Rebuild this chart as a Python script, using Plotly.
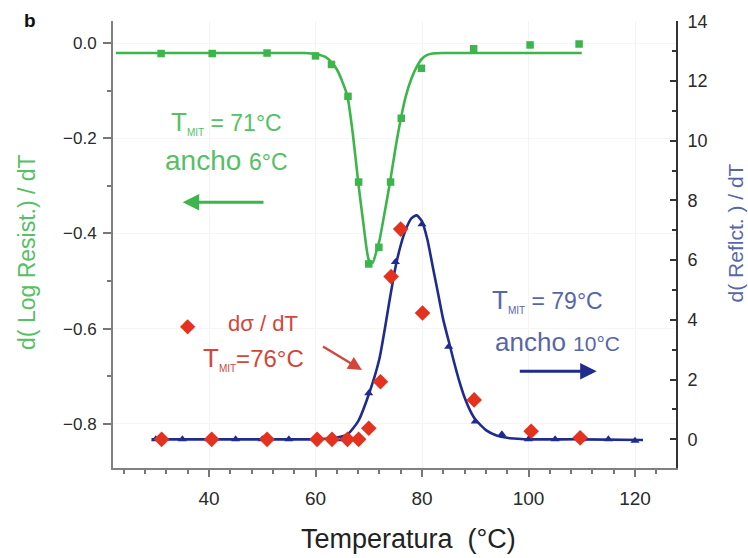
import plotly.graph_objects as go

# ---------------- data ----------------
# green: d(Log Resist.)/dT  (left axis), squares + fitted curve
green_T = [31.0, 40.6, 50.9, 60.0, 63.0, 66.1, 68.1, 70.0, 71.9, 74.1, 76.1, 79.9, 89.7, 100.3, 109.5]
green_v = [-0.022, -0.022, -0.021, -0.027, -0.045, -0.112, -0.292, -0.464, -0.429, -0.292, -0.158, -0.053,
           -0.012, -0.004, -0.002]
green_fit_T = [22.5, 30, 40, 50, 58, 60, 62, 63, 64, 65, 66, 67, 68, 69, 70, 70.7, 71.5, 72, 73, 74, 75,
               76, 77, 78, 79, 80, 81, 82, 84, 90, 100, 110]
green_fit_v = [-0.021, -0.021, -0.021, -0.021, -0.021, -0.023, -0.030, -0.040, -0.055, -0.080, -0.112,
               -0.190, -0.290, -0.380, -0.455, -0.462, -0.435, -0.415, -0.355, -0.292, -0.222, -0.160,
               -0.110, -0.075, -0.050, -0.033, -0.025, -0.022, -0.021, -0.021, -0.021, -0.021]

# blue: d(Reflct.)/dT (right axis), triangles + fitted curve
blue_T = [30, 35, 40, 45, 50, 55, 60, 65, 70, 75, 80, 85, 90, 95, 100, 105, 110, 115, 120]
blue_v = [0, 0, 0, 0, 0, 0, 0, 0, 1.54, 5.94, 7.2, 3.1, 0.6, 0.17, 0.0, 0, 0, 0, -0.05]
blue_fit_T = [29.2, 40, 50, 60, 62, 64, 66, 68, 70, 72, 74, 75, 76, 77, 78, 79, 80, 81, 82, 83, 84, 85,
              86, 87, 88, 89, 90, 92, 94, 96, 98, 100, 110, 121.5]
blue_fit_v = [0, 0, 0, 0, 0.02, 0.06, 0.17, 0.6, 1.5, 2.7, 4.75, 5.75, 6.5, 7.05, 7.4, 7.5, 7.3, 6.7,
              5.8, 4.9, 4.0, 3.3, 2.6, 1.95, 1.4, 0.98, 0.67, 0.31, 0.13, 0.05, 0.02, 0, 0, -0.02]

# red: dσ/dT (drawn on the right-axis scale), diamonds
red_T = [31.1, 40.5, 50.9, 60.3, 63.1, 66.0, 68.1, 70.0, 72.2, 74.2, 76.0, 80.1, 89.8, 100.5, 109.7]
red_v = [0, 0, 0, 0, 0, 0, 0, 0.37, 1.93, 5.45, 7.04, 4.23, 1.32, 0.27, 0.05]

# ---------------- styles ----------------
GREEN = "#3cb54a"
BLUE = "#1f2b8e"
RED = "#e4321f"
GREEN_TXT = "#55c064"
BLUE_TXT = "#5866a8"
RED_TXT = "#d2473c"
FONT = "Arial, Liberation Sans, sans-serif"
TICK_TXT = "#2a2a2a"

fig = go.Figure()
fig.add_trace(go.Scatter(x=green_fit_T, y=green_fit_v, mode="lines",
                         line=dict(color=GREEN, width=2.6, shape="spline", smoothing=0.6), yaxis="y"))
fig.add_trace(go.Scatter(x=green_T, y=green_v, mode="markers",
                         marker=dict(symbol="square", size=7.5, color=GREEN), yaxis="y"))
fig.add_trace(go.Scatter(x=blue_fit_T, y=blue_fit_v, mode="lines",
                         line=dict(color=BLUE, width=2.6, shape="spline", smoothing=0.6), yaxis="y2"))
fig.add_trace(go.Scatter(x=blue_T, y=blue_v, mode="markers",
                         marker=dict(symbol="triangle-up", size=8, color=BLUE), yaxis="y2"))
fig.add_trace(go.Scatter(x=red_T, y=red_v, mode="markers",
                         marker=dict(symbol="diamond", size=12, color=RED), yaxis="y2"))

sub = "<sub><span style='font-size:10px'>MIT</span></sub>"
T_BIG = "<span style='font-size:26px'>T</span>"


def txt(text, x, y, size, color, xref="x", yref="y", angle=0):
    return dict(text=text, xref=xref, yref=yref, x=x, y=y, showarrow=False, textangle=angle,
                xanchor="center", yanchor="middle", font=dict(size=size, color=color))


def arrow(x0, y0, x1, y1, color, yref, width=3):
    return dict(text=" ", xref="x", yref=yref, axref="x", ayref=yref, x=x1, y=y1, ax=x0, ay=y0,
                showarrow=True, arrowhead=2, arrowsize=1.1, arrowwidth=width, arrowcolor=color)


ann = [
    # panel letter
    txt("<b>b</b>", -0.147, 1.002, 19, "#111", "paper", "paper"),
    # axis titles
    txt("d( Log Resist.) / dT", -0.153, 0.483, 23, GREEN_TXT, "paper", "paper", -90),
    txt("d( Reflct. ) / dT", 1.105, 0.525, 21, BLUE_TXT, "paper", "paper", -90),
    txt("Temperatura  (°C)", 0.525, -0.1595, 27, "#222", "paper", "paper"),
    # green text
    txt(T_BIG + sub + " = 71°C", 43.3, -0.166, 23, GREEN_TXT),
    txt("ancho <span style='font-size:23px'>6°C</span>", 43.3, -0.247, 28, GREEN_TXT),
    arrow(50.8, -0.3344, 35.06, -0.3344, GREEN, "y"),
    # red text
    txt("◆", 36.1, 3.82, 20, RED, "x", "y2"),
    txt("dσ / dT", 50.1, 3.88, 22, RED_TXT, "x", "y2"),
    txt(T_BIG + sub + "=76°C", 48.3, 2.72, 24, RED_TXT, "x", "y2"),
    arrow(60.85, 3.17, 68.73, 2.32, RED_TXT, "y2", 2.5),
    # blue text
    txt(T_BIG + sub + " = 79°C", 103.6, 4.64, 23, BLUE_TXT, "x", "y2"),
    txt("ancho <span style='font-size:21px'>10°C</span>", 105.4, 3.26, 26, BLUE_TXT, "x", "y2"),
    arrow(97.8, 2.28, 112.8, 2.28, BLUE, "y2"),
]

fig.update_layout(
    width=748, height=558,
    margin=dict(l=113, r=72, t=13, b=90),
    paper_bgcolor="white", plot_bgcolor="white",
    showlegend=False,
    font=dict(family=FONT),
    annotations=ann,
    xaxis=dict(range=[21.97, 127.7], tick0=0, dtick=20, ticks="outside", ticklen=7, tickwidth=2,
               tickcolor="#777", showline=True, linecolor="#808080", linewidth=2, zeroline=False,
               showgrid=True, gridcolor="#f3f3f3",
               tickfont=dict(size=19, color=TICK_TXT), ticklabelstandoff=5,
               minor=dict(dtick=4, tick0=0, ticks="outside", ticklen=4, tickcolor="#777", showgrid=False)),
    yaxis=dict(range=[-0.8926, 0.0463], tick0=0, dtick=0.2, tickformat=".1f", ticks="outside",
               ticklen=8, tickwidth=2, tickcolor="#777", showline=True, linecolor="#808080", linewidth=2,
               zeroline=False, showgrid=True, gridcolor="#f5f5f5",
               tickfont=dict(size=17, color=TICK_TXT), ticklabelstandoff=3,
               minor=dict(dtick=0.1, tick0=0, ticks="outside", ticklen=4, tickcolor="#777", showgrid=False)),
    yaxis2=dict(range=[-0.96, 14.01], overlaying="y", side="right", tick0=0, dtick=2, ticks="inside",
                ticklen=6, tickwidth=2, tickcolor="#333", showline=True, linecolor="#333", linewidth=2,
                zeroline=False, showgrid=False,
                tickfont=dict(size=18, color=TICK_TXT), ticklabelstandoff=6,
                minor=dict(dtick=1, tick0=0, ticks="inside", ticklen=4, tickcolor="#333")),
)

fig.write_html("out.html")
